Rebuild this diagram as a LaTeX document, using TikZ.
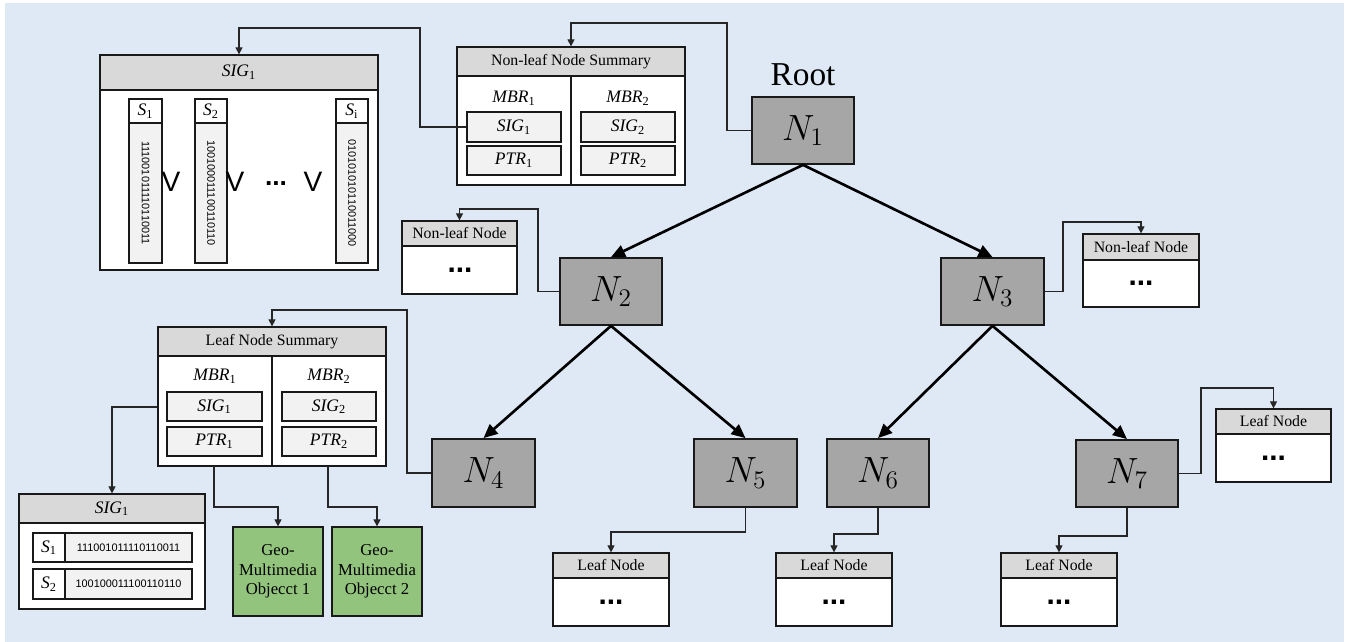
\documentclass[tikz,border=0pt]{standalone}
\usepackage{fontspec}
\setmainfont{Liberation Serif}
\newfontfamily\arialf{Liberation Sans}
\usetikzlibrary{arrows.meta}
\definecolor{bgc}{HTML}{DEE9F5}
\definecolor{hdrc}{HTML}{D9D9D9}
\definecolor{cellc}{HTML}{F2F2F2}
\definecolor{ngray}{HTML}{A6A6A6}
\definecolor{gobj}{HTML}{93C47D}
\newcommand\isub[2]{\textit{#1}\textsubscript{#2}}
\tikzset{
  rect/.style n args={4}{minimum width={(#3-#1)*0.02cm}, minimum height={(#4-#2)*0.02cm}, at={({(#1+#3)/2},{(#2+#4)/2})}},
  box/.style={draw=black!90, line width=0.7pt, inner sep=0pt},
  hdr/.style={box, fill=hdrc, font=\fontsize{9}{11}\selectfont},
  wbox/.style={box, fill=white},
  cell/.style={box, fill=cellc, font=\fontsize{10}{12}\selectfont},
  nbox/.style={box, fill=ngray, line width=1pt, font=\fontsize{22}{26}\selectfont},
  gbox/.style={box, fill=gobj, align=center, font=\fontsize{9.5}{11}\selectfont},
  bin/.style={font=\arialf\fontsize{6.2}{7}\selectfont, inner sep=0pt},
  lbl/.style={font=\fontsize{10}{12}\selectfont, inner sep=0pt},
  sqdots/.style={font=\arialf\bfseries\fontsize{17}{17}\selectfont, inner sep=0pt},
  vsym/.style={font=\arialf\fontsize{16}{16}\selectfont, inner sep=0pt},
  conn/.style={draw=black!85, line width=0.6pt, -{Triangle[length=4pt,width=4pt]}},
  tree/.style={draw=black, line width=1.5pt, -{Triangle[length=8pt,width=7pt]}}
}
\begin{document}
\begin{tikzpicture}[x=0.02cm,y=-0.02cm]
\useasboundingbox (0,0) rectangle (1352,642);
\fill[bgc] (5,3) rectangle (1344,642);

% ---------- top SIG box ----------
\node[wbox, rect={100}{55}{378}{270}] (TS) {};
\node[hdr, rect={100}{55}{378}{90}, font=\fontsize{10}{12}\selectfont] (TSh) {\isub{SIG}{1}};
\node[wbox, lbl, rect={129}{99}{162}{123}] (c1h) {\isub{S}{1}};
\node[cell, rect={129}{123}{162}{263}] (c1) {};
\node[bin, rotate=-90] (c1t) at (c1) {111001011110110011};
\node[wbox, lbl, rect={195}{99}{227}{123}] (c2h) {\isub{S}{2}};
\node[cell, rect={195}{123}{227}{263}] (c2) {};
\node[bin, rotate=-90] (c2t) at (c2) {100100011100110110};
\node[wbox, lbl, rect={336}{99}{368}{123}] (cih) {\isub{S}{i}};
\node[cell, rect={336}{123}{368}{263}] (ci) {};
\node[bin, rotate=-90] (cit) at (ci) {010101010110011000};
\node[vsym] (v1) at (171,182) {V};
\node[vsym] (v2) at (235,182) {V};
\node[vsym] (v3) at (313,182) {V};
\node[font=\arialf\bfseries\fontsize{15}{15}\selectfont, inner sep=0pt] (vd) at (276,184) {...};

% ---------- non-leaf node summary ----------
\node[wbox, rect={457}{47}{685}{185}] (NS) {};
\node[hdr, rect={457}{47}{685}{76}] (NSh) {Non-leaf Node Summary};
\draw[black!90, line width=0.7pt] (571,76) -- (571,185);
\node[lbl] (nm1) at (514,98) {\isub{MBR}{1}};
\node[lbl] (nm2) at (628,98) {\isub{MBR}{2}};
\node[cell, rect={467}{112}{561}{142}] (nsig1) {\isub{SIG}{1}};
\node[cell, rect={467}{146}{561}{175}] (nptr1) {\isub{PTR}{1}};
\node[cell, rect={581}{112}{675}{142}] (nsig2) {\isub{SIG}{2}};
\node[cell, rect={581}{146}{675}{175}] (nptr2) {\isub{PTR}{2}};

% ---------- tree ----------
\node[font=\fontsize{19}{22}\selectfont, inner sep=0pt] (root) at (803,75) {Root};
\node[nbox, rect={752}{97}{854}{164}] (N1) {$N_1$};
\node[nbox, rect={560}{258}{662}{325}] (N2) {$N_2$};
\node[nbox, rect={941}{258}{1044}{325}] (N3) {$N_3$};
\node[nbox, rect={432}{439}{535}{507}] (N4) {$N_4$};
\node[nbox, rect={694}{439}{797}{507}] (N5) {$N_5$};
\node[nbox, rect={827}{439}{929}{507}] (N6) {$N_6$};
\node[nbox, rect={1076}{440}{1178}{507}] (N7) {$N_7$};

\draw[tree] (N1.south) -- (N2.north);
\draw[tree] (N1.south) -- (N3.north);
\draw[tree] (N2.south) -- (N4.north);
\draw[tree] (N2.south) -- (N5.north);
\draw[tree] (N3.south) -- (N6.north);
\draw[tree] (N3.south) -- (N7.north);

% ---------- small boxes ----------
\node[wbox, rect={402}{221}{517}{294}] (NL1) {};
\node[hdr, rect={402}{221}{517}{246}] (NL1h) {Non-leaf Node};
\node[sqdots] (NL1d) at (460,270) {...};

\node[wbox, rect={1083}{234}{1199}{307}] (NL2) {};
\node[hdr, rect={1083}{234}{1199}{260}] (NL2h) {Non-leaf Node};
\node[sqdots] (NL2d) at (1141,283.5) {...};

\node[wbox, rect={1216}{409}{1331}{482}] (LR) {};
\node[hdr, rect={1216}{409}{1331}{434}] (LRh) {Leaf Node};
\node[sqdots] (LRd) at (1273.5,458) {...};

\node[wbox, rect={553}{553}{669}{626}] (L1) {};
\node[hdr, rect={553}{553}{669}{578}] (L1h) {Leaf Node};
\node[sqdots] (L1d) at (611,602) {...};

\node[wbox, rect={776}{553}{892}{626}] (L2) {};
\node[hdr, rect={776}{553}{892}{578}] (L2h) {Leaf Node};
\node[sqdots] (L2d) at (834,602) {...};

\node[wbox, rect={1001}{553}{1117}{626}] (L3) {};
\node[hdr, rect={1001}{553}{1117}{578}] (L3h) {Leaf Node};
\node[sqdots] (L3d) at (1059,602) {...};

% ---------- leaf node summary ----------
\node[wbox, rect={158}{327}{386}{466}] (LS) {};
\node[hdr, rect={158}{327}{386}{356}] (LSh) {Leaf Node Summary};
\draw[black!90, line width=0.7pt] (272,356) -- (272,466);
\node[lbl] (lm1) at (215,376) {\isub{MBR}{1}};
\node[lbl] (lm2) at (329,376) {\isub{MBR}{2}};
\node[cell, rect={167}{392}{262}{421}] (lsig1) {\isub{SIG}{1}};
\node[cell, rect={167}{427}{262}{456}] (lptr1) {\isub{PTR}{1}};
\node[cell, rect={282}{392}{376}{421}] (lsig2) {\isub{SIG}{2}};
\node[cell, rect={282}{427}{376}{456}] (lptr2) {\isub{PTR}{2}};

% ---------- bottom SIG box ----------
\node[wbox, rect={19}{494}{205}{609}] (BS) {};
\node[hdr, rect={19}{494}{205}{523}, font=\fontsize{10}{12}\selectfont] (BSh) {\isub{SIG}{1}};
\node[wbox, lbl, rect={33}{533}{65}{562}] (r1h) {\isub{S}{1}};
\node[cell, bin, rect={65}{533}{192}{562}] (r1) {111001011110110011};
\node[wbox, lbl, rect={33}{569}{65}{599}] (r2h) {\isub{S}{2}};
\node[cell, bin, rect={65}{569}{192}{599}] (r2) {100100011100110110};

% ---------- objects ----------
\node[gbox, rect={233}{527}{323}{616}] (G1) {Geo-\\Multimedia\\Objecct 1};
\node[gbox, rect={332}{527}{422}{616}] (G2) {Geo-\\Multimedia\\Objecct 2};

% ---------- connectors ----------
\draw[conn] (N1.west) -- (727,130.5) -- (727,23) -- (571,23) -- (NS.north);
\draw[conn] (nsig1.west) -- (420,127) -- (420,28) -- (239,28) -- (TS.north);
\draw[conn] (N2.west) -- (538,291.5) -- (538,209) -- (459.5,209) -- (NL1.north);
\draw[conn] (N3.east) -- (1063,291.5) -- (1063,222) -- (1141,222) -- (NL2.north);
\draw[conn] (N7.east) -- (1201,473.5) -- (1201,388) -- (1273.5,388) -- (LR.north);
\draw[conn] (N5.south) -- (745.5,532) -- (611,532) -- (L1.north);
\draw[conn] (N6.south) -- (878,534) -- (834,534) -- (L2.north);
\draw[conn] (N7.south) -- (1127,536) -- (1059,536) -- (L3.north);
\draw[conn] (N4.west) -- (407,473) -- (407,310) -- (272,310) -- (LS.north);
\draw[conn] (LS.west |- 0,407) -- (112,407) -- (BS.north);
\draw[conn] (214,466) -- (214,507) -- (278,507) -- (G1.north);
\draw[conn] (328,466) -- (328,507) -- (377,507) -- (G2.north);
\end{tikzpicture}
\end{document}
